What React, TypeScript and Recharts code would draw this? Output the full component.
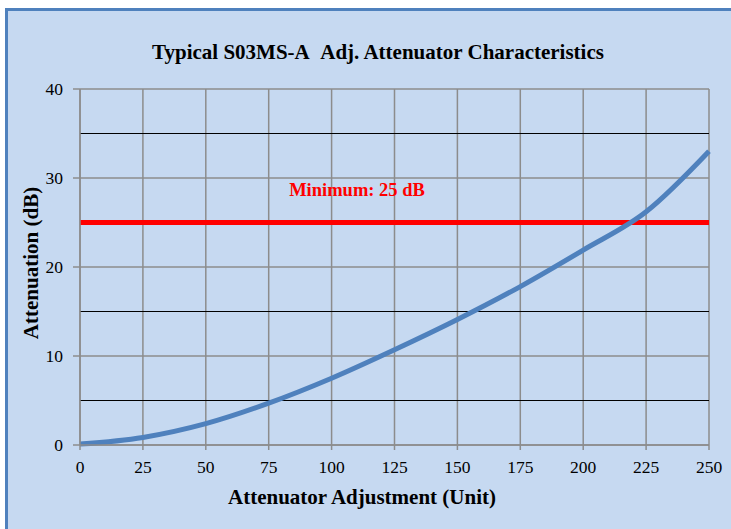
import React from 'react';
import { LineChart, Line, XAxis, YAxis, CartesianGrid, ReferenceLine } from 'recharts';

const adjustmentUnits = [0, 25, 50, 75, 100, 125, 150, 175, 200, 225, 250];
const attenuationDb = [0.1, 0.85, 2.4, 4.7, 7.5, 10.7, 14.1, 17.8, 21.9, 26.2, 33.0];
const xTicks = [0, 25, 50, 75, 100, 125, 150, 175, 200, 225, 250];
const yTicks = [0, 10, 20, 30, 40];
const minorYLines = [5, 15, 35];
const minimumDb = 25;
const minimumLabel = 'Minimum: 25 dB';
const chartTitle = 'Typical S03MS-A\u00a0\u00a0Adj. Attenuator Characteristics';
const xTitle = 'Attenuator Adjustment (Unit)';
const yTitle = 'Attenuation (dB)';

const data = adjustmentUnits.map((x, i) => ({ x, y: attenuationDb[i] }));

const FONT = '"Liberation Serif", "Times New Roman", serif';
const GRID = '#8C8C8C';

export default function App() {
  return (
    <div style={{ position: 'absolute', left: 0, top: 0, width: 731, height: 529, overflow: 'hidden', background: '#fff', fontFamily: FONT }}>
      <div style={{ position: 'absolute', left: 5, top: 8, width: 780, height: 580, boxSizing: 'border-box', border: '3px solid #4F81BD', background: '#C6D9F1' }} />
      <div style={{ position: 'absolute', left: 0, top: 0 }}>
        <LineChart width={731} height={529} data={data} margin={{ top: 89, right: 22, bottom: 54, left: 30 }}>
          <CartesianGrid stroke={GRID} strokeWidth={1.5} />
          {minorYLines.map((v) => (
            <ReferenceLine key={v} y={v} stroke="#000" strokeWidth={1} />
          ))}
          <XAxis
            dataKey="x"
            type="number"
            domain={[0, 250]}
            ticks={xTicks}
            interval={0}
            height={30}
            tickSize={5}
            tickMargin={11}
            stroke={GRID}
            strokeWidth={1.5}
            tick={{ fill: '#000', fontSize: 17.5, fontFamily: FONT }}
          />
          <YAxis
            type="number"
            domain={[0, 40]}
            ticks={yTicks}
            interval={0}
            width={50}
            tickSize={7}
            tickMargin={10}
            stroke={GRID}
            strokeWidth={1.5}
            tick={{ fill: '#000', fontSize: 17.5, fontFamily: FONT }}
          />
          <ReferenceLine y={minimumDb} stroke="#FF0000" strokeWidth={5} />
          <Line type="monotone" dataKey="y" stroke="#4F81BD" strokeWidth={5} dot={false} isAnimationActive={false} />
        </LineChart>
      </div>
      <div style={{ position: 'absolute', left: 0, width: 756, top: 40, lineHeight: '24px', textAlign: 'center', fontWeight: 'bold', fontSize: 21, color: '#000' }}>{chartTitle}</div>
      <div style={{ position: 'absolute', left: 0, width: 724, top: 485, lineHeight: '24px', textAlign: 'center', fontWeight: 'bold', fontSize: 21, color: '#000' }}>{xTitle}</div>
      <div style={{ position: 'absolute', left: 31, top: 263, transform: 'translate(-50%, -50%) rotate(-90deg)', whiteSpace: 'nowrap', lineHeight: '24px', fontWeight: 'bold', fontSize: 21, color: '#000' }}>{yTitle}</div>
      <div style={{ position: 'absolute', left: 0, width: 714, top: 179, lineHeight: '22px', textAlign: 'center', fontWeight: 'bold', fontSize: 18.5, color: '#FF0000' }}>{minimumLabel}</div>
    </div>
  );
}
